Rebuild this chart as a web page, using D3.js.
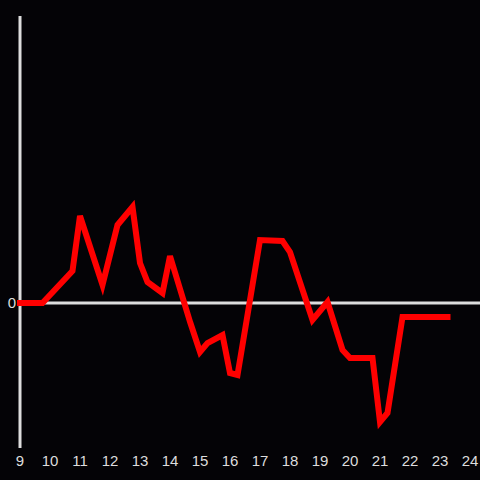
<!DOCTYPE html>
<html><head><meta charset="utf-8">
<script src="https://cdn.jsdelivr.net/npm/d3@7"></script>
<style>html,body{margin:0;padding:0;background:#040306;}svg{display:block;}</style>
</head><body>
<svg id="c" width="480" height="480"></svg>
<script>
const hours = [9, 9.75, 10.75, 11, 11.75, 12.25, 12.75, 13, 13.25, 13.75, 14, 14.67, 15, 15.25, 15.75, 16, 16.25, 17, 17.75, 18, 18.75, 19.25, 19.75, 20, 20.75, 21, 21.25, 21.75, 23.25];
const values = [0, 0, 32, 87, 18, 78, 96, 40, 21, 10, 47, -19, -49, -40, -32, -70, -72, 63, 62, 51, -17, 1, -47, -55, -55, -119, -110, -14, -14];
const xTicks = [9,10,11,12,13,14,15,16,17,18,19,20,21,22,23,24];
const yTicks = [0];

const svg = d3.select("#c");
svg.append("rect").attr("width",480).attr("height",480).attr("fill","#040306");
const x = d3.scaleLinear().domain([9,24]).range([20,470]);
const y = d3.scaleLinear().domain([-145,287]).range([448,16]);

// vertical axis
svg.append("line").attr("x1",x(9)).attr("x2",x(9)).attr("y1",y(287)).attr("y2",y(-145))
  .attr("stroke","#dddddd").attr("stroke-width",3);
// zero line
svg.append("line").attr("x1",x(9)).attr("x2",480).attr("y1",y(0)).attr("y2",y(0))
  .attr("stroke","#dddddd").attr("stroke-width",3);

svg.selectAll("text.xt").data(xTicks).enter().append("text").attr("class","xt")
  .attr("x",d=>x(d)).attr("y",466).attr("text-anchor","middle")
  .attr("font-family","Liberation Sans, Arial, sans-serif").attr("font-size",15).attr("fill","#dddddd")
  .text(d=>d);
svg.selectAll("text.yt").data(yTicks).enter().append("text").attr("class","yt")
  .attr("x",16).attr("y",d=>y(d)).attr("dy","0.36em").attr("text-anchor","end")
  .attr("font-family","Liberation Sans, Arial, sans-serif").attr("font-size",15).attr("fill","#dddddd")
  .text(d=>d);

const line = d3.line().x((d,i)=>x(hours[i])).y(d=>y(d));
svg.append("path").attr("d",line(values)).attr("fill","none").attr("stroke","#ff0000")
  .attr("stroke-width",6).attr("stroke-linecap","square").attr("stroke-linejoin","miter");
</script>
</body></html>
